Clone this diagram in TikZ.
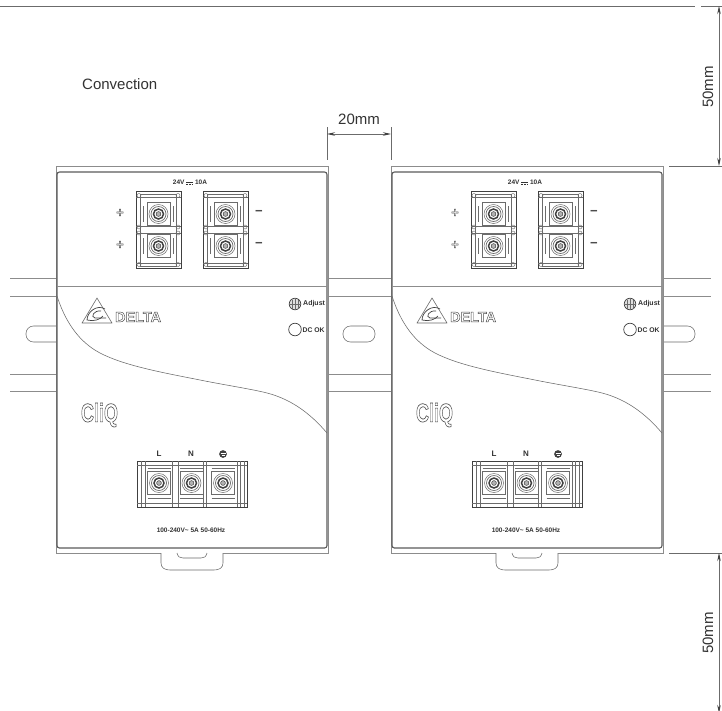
\documentclass[tikz,border=0pt]{standalone}
\usepackage{fontspec}
\setmainfont{Liberation Sans}
\usetikzlibrary{arrows.meta}
\definecolor{ln}{gray}{0.42}
\definecolor{lt}{gray}{0.55}
\definecolor{dk}{gray}{0.25}
\newcommand{\outl}[1]{\special{pdf:literal q 1 Tr 0.45 w 0.3 G}#1\special{pdf:literal Q}}
\newcommand{\dcsym}{\raisebox{0.35ex}{\rule{7pt}{0.6pt}}\kern-7pt\raisebox{-0.0ex}{\rule{1.8pt}{0.5pt}\kern0.8pt\rule{1.8pt}{0.5pt}\kern0.8pt\rule{1.8pt}{0.5pt}}}
\tikzset{
 x=1pt,y=-1pt,
 rail/.style={draw=lt,line width=0.7pt},
 frm/.style={draw=dk!85!white,line width=1.1pt},
 thin line/.style={draw=ln,line width=0.55pt},
 dim/.style={draw=ln,line width=0.7pt},
 dimarrow/.style={draw=ln,line width=0.7pt,{Stealth[length=8pt,width=3.5pt,color=dk]}-{Stealth[length=8pt,width=3.5pt,color=dk]}},
 big/.style={font=\fontsize{15}{15}\selectfont,text=black!80,inner sep=0pt},
 tiny/.style={font=\fontsize{6.5}{7}\selectfont\bfseries,text=black!80,inner sep=0pt},
 sign/.style={font=\fontsize{13}{13}\selectfont\bfseries,text=black!70,inner sep=0pt},
 screw/.pic={
  \draw[ln,line width=0.5pt] (0,0) circle (9.5);
  \draw[ln,line width=0.7pt] (0,0) circle (7.5);
  \draw[dk,line width=1.5pt] (0,0) circle (5);
  \draw[dk,line width=0.5pt,fill=gray!60] (0,0) circle (2.4);
 },
 cornerdots/.pic={
  \draw[ln,line width=0.45pt] (0,0) circle (2);
 },
 toppair/.pic={
  \draw[dk,line width=0.9pt,fill=white] (-22.5,-38.5) rectangle (22.5,38.5);
  \draw[ln,line width=0.4pt] (-18,-36) rectangle (18,36);
  \foreach \yy in {-16,16}{
   \draw[ln,line width=0.5pt] (-11.5,\yy-11.5) rectangle (11.5,\yy+11.5);
   \draw[ln,line width=0.5pt] (-15,\yy-8) -- (-15,\yy+8) (15,\yy-8) -- (15,\yy+8);
   \path (0,\yy) pic {screw};
  }
  \draw[ln,line width=0.4pt] (-22.5,-33) -- (22.5,-33) (-22.5,-3.5) -- (22.5,-3.5) (-22.5,3.5) -- (22.5,3.5) (-22.5,33) -- (22.5,33);
  \foreach \xx in {-19.5,19.5}\foreach \yy in {-34.5,-3,3,34.5}{\path (\xx,\yy) pic {cornerdots};}
 },
 bottomcell/.pic={
  \draw[ln,line width=0.5pt] (-11.5,-11.5) rectangle (11.5,11.5);
  \draw[ln,line width=0.4pt] (-11.5,-15) -- (11.5,-15) (-11.5,15) -- (11.5,15);
  \path (0,0) pic {screw};
 },
 unit/.pic={
  \draw[rail,fill=white] (56,166) rectangle (328,553);
  \path[fill=white] (161,553) -- (161,563) .. controls (161,568) and (165,570) .. (170,570) -- (214,570) .. controls (219,570) and (223,568) .. (223,563) -- (223,553) -- cycle;
  \draw[thin line] (161,553) -- (161,563) .. controls (161,568) and (165,570) .. (170,570) -- (214,570) .. controls (219,570) and (223,568) .. (223,563) -- (223,553);
  \draw[thin line] (177,553) .. controls (178,557) and (180,558) .. (183,558) -- (201,558) .. controls (204,558) and (206,557) .. (207,553);
  \draw[frm,fill=white,rounded corners=2.5pt] (57,172) rectangle (327,548);
  \draw[rail] (57,286) -- (327,286);
  \draw[thin line] (57,296) .. controls (68,330) and (85,345) .. (100,353) .. controls (125,366) and (165,373) .. (200,380) .. controls (225,385) and (245,388) .. (263,392) .. controls (290,398) and (310,413) .. (327,433);
  \node[tiny] (-ratedc) at (190,182) {24V \dcsym{} 10A};
  \path (158.5,230) pic {toppair};
  \path (225.5,230) pic {toppair};
  \node[sign] (-p1) at (120,213) {\outl{+}};
  \node[sign] (-p2) at (120,245) {\outl{+}};
  \node[sign] (-m1) at (259,213) {−};
  \node[sign] (-m2) at (259,245) {−};
  \draw[ln,line width=0.6pt,line join=round] (97,298) -- (112,323) -- (82,323) -- cycle;
  \draw[dk,line width=0.7pt] (105,309) .. controls (97,304) and (87,312) .. (87,320) .. controls (94,322) and (101,319) .. (103,316);
  \draw[dk,line width=0.7pt] (101,311) .. controls (94,310) and (90,317) .. (95,318) -- (106,318);
  \node[inner sep=0pt,anchor=west,font=\fontsize{14.4}{15}\selectfont\bfseries] (-delta) at (115,317) {\outl{DELTA}};
  \draw[dk,line width=0.7pt,fill=gray!25] (295,304) circle (5.8);
  \draw[ln,line width=0.4pt] (295,298.5) -- (295,309.5) (289.5,304) -- (300.5,304) (292,299.5) -- (292,308.5) (298,299.5) -- (298,308.5);
  \node[tiny,anchor=west,font=\fontsize{7}{7}\selectfont\bfseries] (-adjust) at (303,304) {Adjust};
  \draw[dk,line width=0.7pt] (295,329.5) circle (6.3);
  \node[tiny,anchor=west,font=\fontsize{6.8}{7}\selectfont\bfseries] (-dcok) at (302.5,330) {DC OK};
  \node[inner sep=0pt,anchor=center,font=\fontsize{18}{18}\selectfont\bfseries] (-cliq) at (99.5,415) {\scalebox{1}[1.45]{\outl{CliQ}}};
  \draw[dk,line width=0.9pt,fill=white] (137,461) rectangle (247,507);
  \draw[ln,line width=0.4pt] (141,461) -- (141,507) (145,461) -- (145,507) (172,461) -- (172,507) (178,461) -- (178,507) (206,461) -- (206,507) (240,461) -- (240,507) (244,461) -- (244,507) (203,461) -- (203,507) (237,461) -- (237,507);
  \draw[ln,line width=0.4pt] (137,465) -- (247,465) (137,503) -- (247,503);
  \path (159,483) pic {bottomcell} (191.5,483) pic {bottomcell} (223,483) pic {bottomcell};
  \node[tiny,font=\fontsize{8}{8}\selectfont\bfseries] (-l) at (159,454) {L};
  \node[tiny,font=\fontsize{8}{8}\selectfont\bfseries] (-n) at (191,454) {N};
  \draw[dk,fill=dk,line width=0.4pt] (223,454) circle (3.6);
  \draw[white,line width=0.4pt] (220.5,453.5) -- (225.5,453.5) (221.5,455) -- (224.5,455);
  \node[tiny] (-ratedac) at (191,530) {100-240V\textasciitilde{} 5A 50-60Hz};
 }
}
\begin{document}
\begin{tikzpicture}
\useasboundingbox[fill=white] (0,0) rectangle (722,710);
\clip (0,0) rectangle (722,710);
\draw[rail] (10,278) -- (711,278);
\draw[rail] (10,296) -- (711,296);
\draw[rail] (10,374) -- (711,374);
\draw[rail] (10,391) -- (711,391);
\draw[thin line,rounded corners=7.5pt] (26,326) rectangle (80,342);
\draw[thin line,rounded corners=7.5pt] (343,326) rectangle (375,342);
\draw[thin line,rounded corners=7.5pt] (640,326) rectangle (695,342);
\path (0,0) pic (ua) {unit};
\path (335,0) pic (ub) {unit};
\node[big,anchor=west] (conv) at (82,84) {Convection};
\node[big] (w20) at (359,119) {20mm};
\node[big,rotate=90] (h50a) at (708,87) {50mm};
\node[big,rotate=90] (h50b) at (708,633) {50mm};
\coordinate (gl) at (327,134);
\coordinate (gr) at (391,134);
\coordinate (gla) at (327,127);
\coordinate (glb) at (327,160);
\coordinate (gra) at (391,127);
\coordinate (grb) at (391,160);
\coordinate (t0) at (0,6);
\coordinate (t1) at (695,6);
\coordinate (t2) at (701,6);
\coordinate (t3) at (722,6);
\coordinate (m0) at (669,166);
\coordinate (m1) at (722,166);
\coordinate (b0) at (669,553);
\coordinate (b1) at (722,553);
\coordinate (a1) at (719,6);
\coordinate (a2) at (719,166);
\coordinate (a3) at (719,553);
\coordinate (a4) at (719,713);
\draw[dim] (gla) -- (glb);
\draw[dim] (gra) -- (grb);
\draw[dimarrow] (gl) -- (gr);
\draw[thin line] (t0) -- (t1);
\draw[thin line] (t2) -- (t3);
\draw[thin line] (m0) -- (m1);
\draw[thin line] (b0) -- (b1);
\draw[dimarrow] (a1) -- (a2);
\draw[dimarrow] (a3) -- (a4);
\end{tikzpicture}
\end{document}
